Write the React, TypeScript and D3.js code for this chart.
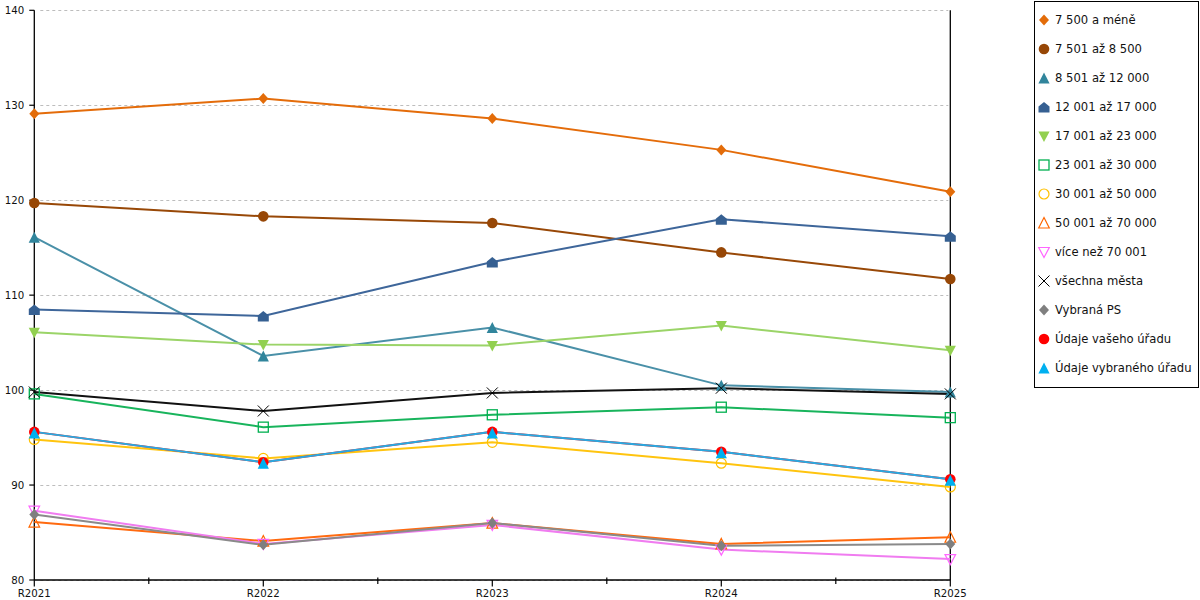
import React from "react";
import * as d3 from "d3";

const categories = ["R2021", "R2022", "R2023", "R2024", "R2025"];
const yTicks = [80, 90, 100, 110, 120, 130, 140];

const seriesNames = [
  "7 500 a méně",
  "7 501 až 8 500",
  "8 501 až 12 000",
  "12 001 až 17 000",
  "17 001 až 23 000",
  "23 001 až 30 000",
  "30 001 až 50 000",
  "50 001 až 70 000",
  "více než 70 001",
  "všechna města",
  "Vybraná PS",
  "Údaje vašeho úřadu",
  "Údaje vybraného úřadu",
];

const v7500 = [129.1, 130.7, 128.6, 125.3, 120.9];
const v8500 = [119.7, 118.3, 117.6, 114.5, 111.7];
const v12000 = [116.1, 103.6, 106.6, 100.5, 99.8];
const v17000 = [108.5, 107.8, 113.5, 118.0, 116.2];
const v23000 = [106.1, 104.8, 104.7, 106.8, 104.2];
const v30000 = [99.6, 96.1, 97.4, 98.2, 97.1];
const v50000 = [94.8, 92.8, 94.5, 92.3, 89.8];
const v70000 = [86.1, 84.1, 86.0, 83.8, 84.5];
const vOver70001 = [87.3, 83.8, 85.8, 83.2, 82.2];
const vAll = [99.8, 97.8, 99.7, 100.2, 99.6];
const vPS = [86.9, 83.7, 86.0, 83.6, 83.8];
const vYour = [95.6, 92.4, 95.6, 93.5, 90.6];
const vSelected = [95.6, 92.4, 95.6, 93.5, 90.6];

const seriesValues = [
  v7500, v8500, v12000, v17000, v23000, v30000, v50000, v70000,
  vOver70001, vAll, vPS, vYour, vSelected,
];

const lineColors = [
  "#E46C0A", "#984807", "#4A90A8", "#3E669A", "#9BD468", "#18B45C",
  "#FFC40F", "#FF6A10", "#F07CF0", "#111111", "#8A8A8A", "#FF1A1A", "#2AA8E0",
];
const markerColors = [
  "#E36C09", "#974706", "#31859C", "#366092", "#92D050", "#00B050",
  "#FFC000", "#FF6600", "#FF66FF", "#000000", "#7F7F7F", "#FF0000", "#00B0F0",
];
const markerTypes = [
  "diamond", "circle", "triangle", "house", "triangleDown", "squareOpen",
  "circleOpen", "triangleOpen", "triangleDownOpen", "x", "diamond", "circle", "triangle",
];

function Marker({ type, color, x, y }: { type: string; color: string; x: number; y: number }) {
  const t = `translate(${x},${y})`;
  switch (type) {
    case "diamond":
      return <path transform={t} d="M0,-5.5L5,0L0,5.5L-5,0Z" fill={color} />;
    case "circle":
      return <circle cx={x} cy={y} r={5.3} fill={color} />;
    case "circleOpen":
      return <circle cx={x} cy={y} r={5} fill="none" stroke={color} strokeWidth={1.2} />;
    case "triangle":
      return <path transform={t} d="M0,-5.5L5.6,5.5L-5.6,5.5Z" fill={color} />;
    case "triangleOpen":
      return <path transform={t} d="M0,-5.5L5.3,5L-5.3,5Z" fill="none" stroke={color} strokeWidth={1.2} />;
    case "triangleDown":
      return <path transform={t} d="M-5.6,-4.5L5.6,-4.5L0,6Z" fill={color} />;
    case "triangleDownOpen":
      return <path transform={t} d="M-5.3,-4.5L5.3,-4.5L0,5.5Z" fill="none" stroke={color} strokeWidth={1.2} />;
    case "house":
      return <path transform={t} d="M0,-5L5.5,-0.5L5.5,5.5L-5.5,5.5L-5.5,-0.5Z" fill={color} />;
    case "squareOpen":
      return <rect x={x - 5} y={y - 5} width={10} height={10} fill="none" stroke={color} strokeWidth={1.3} />;
    case "x":
      return <path transform={t} d="M-5.5,-5.5L5.5,5.5M5.5,-5.5L-5.5,5.5" fill="none" stroke={color} strokeWidth={1} />;
    default:
      return null;
  }
}

export default function App() {
  const width = 1200;
  const height = 600;
  const left = 34.3;
  const right = 950.3;
  const top = 10.3;
  const bottom = 580;

  const x = d3.scalePoint<string>().domain(categories).range([left, right]);
  const y = d3.scaleLinear().domain([80, 140]).range([bottom, top]);

  const line = d3
    .line<number>()
    .x((_, i) => x(categories[i]) as number)
    .y((d) => y(d));

  const step = x.step();
  const midTicks = categories.slice(0, -1).map((c) => (x(c) as number) + step / 2);

  const font = "DejaVu Sans, Verdana, sans-serif";

  return (
    <svg
      width={width}
      height={height}
      style={{ position: "absolute", left: 0, top: 0, background: "#fff" }}
      fontFamily={font}
    >
      {/* gridlines */}
      {yTicks.map((t) => (
        <line
          key={"g" + t}
          x1={left + 6}
          x2={right - 2}
          y1={Math.round(y(t)) + 0.5}
          y2={Math.round(y(t)) + 0.5}
          stroke="#BDBDBD"
          strokeWidth={1}
          strokeDasharray="3,3"
        />
      ))}
      {/* axes */}
      <line x1={left} x2={left} y1={top} y2={bottom} stroke="#000" strokeWidth={1.3} />
      <line x1={right} x2={right} y1={top} y2={bottom} stroke="#000" strokeWidth={1.3} />
      <line x1={left} x2={right} y1={bottom} y2={bottom} stroke="#000" strokeWidth={1.3} />
      {yTicks.map((t) => (
        <g key={"yt" + t}>
          <line x1={left - 5} x2={left} y1={y(t)} y2={y(t)} stroke="#000" strokeWidth={1.2} />
          <text x={left - 10} y={y(t)} dy="0.35em" textAnchor="end" fontSize={10.2} fill="#111">
            {t}
          </text>
        </g>
      ))}
      {categories.map((c) => (
        <g key={"xt" + c}>
          <line x1={x(c)} x2={x(c)} y1={bottom} y2={bottom + 6.5} stroke="#000" strokeWidth={1.2} />
          <text x={x(c)} y={597} textAnchor="middle" fontSize={10.2} fill="#111">
            {c}
          </text>
        </g>
      ))}
      {midTicks.map((m, i) => (
        <line key={"mt" + i} x1={m} x2={m} y1={bottom - 2.5} y2={bottom + 4} stroke="#000" strokeWidth={1.2} />
      ))}

      {/* lines */}
      {seriesValues.map((vals, si) => (
        <path
          key={"l" + si}
          d={line(vals) as string}
          fill="none"
          stroke={lineColors[si]}
          strokeWidth={2}
        />
      ))}
      {/* markers */}
      {seriesValues.map((vals, si) => (
        <g key={"m" + si}>
          {vals.map((v, i) => (
            <Marker
              key={i}
              type={markerTypes[si]}
              color={markerColors[si]}
              x={x(categories[i]) as number}
              y={y(v) + (si === 12 ? 1 : 0)}
            />
          ))}
        </g>
      ))}

      {/* legend */}
      <rect x={1034.5} y={1.5} width={164} height={386} fill="#fff" stroke="#000" strokeWidth={1} />
      {seriesNames.map((n, i) => {
        const cy = 20 + i * 29;
        return (
          <g key={"lg" + i}>
            <Marker type={markerTypes[i]} color={markerColors[i]} x={1044} y={cy} />
            <text x={1055} y={cy} dy="0.35em" fontSize={11.6} fill="#111">
              {n}
            </text>
          </g>
        );
      })}
    </svg>
  );
}
